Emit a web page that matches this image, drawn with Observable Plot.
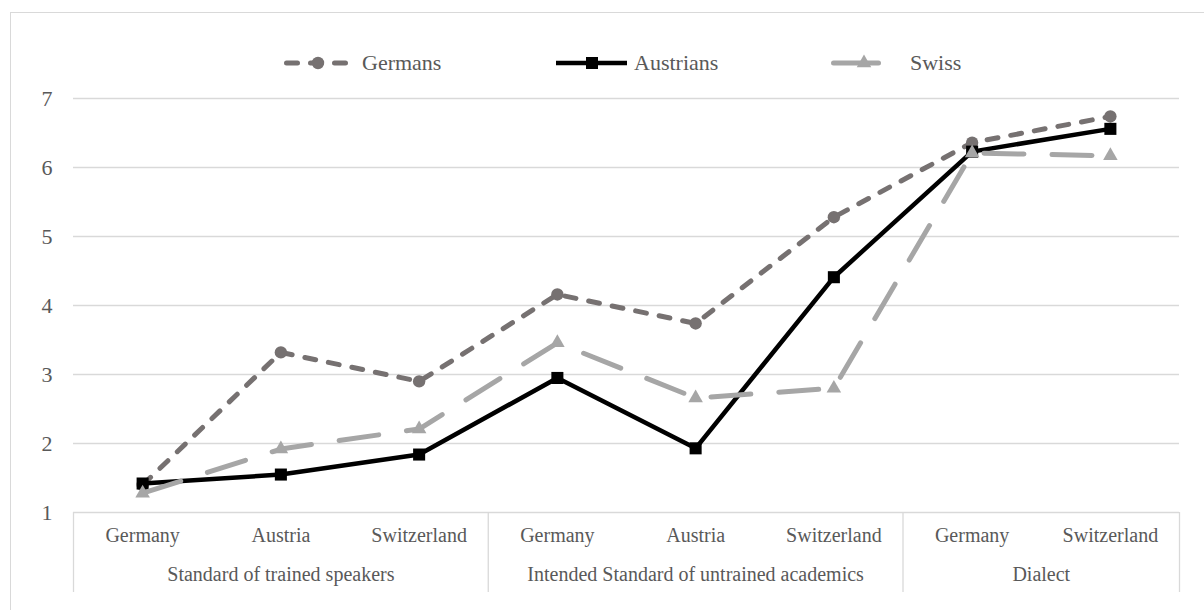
<!DOCTYPE html>
<html><head><meta charset="utf-8">
<script src="https://cdn.jsdelivr.net/npm/d3@7"></script>
<script src="https://cdn.jsdelivr.net/npm/@observablehq/plot@0.6"></script>
<style>
body{margin:0;background:#fff;width:1204px;height:610px;overflow:hidden;position:relative;font-family:"Liberation Serif",serif;}
#frame{position:absolute;left:10px;top:12px;width:1300px;height:700px;border:1.5px solid #d9d9d9;box-sizing:border-box;}
#legend{position:absolute;left:0;top:40px;width:1204px;height:46px;}
#legend .lbl{position:absolute;top:10px;font-family:"Liberation Serif",serif;font-size:22px;line-height:26px;color:#595959;}
#legend svg{position:absolute;left:0;top:0;}
#chart{position:absolute;left:0;top:80px;}
</style></head><body>
<div id="frame"></div><div id="legend"></div><div id="chart"></div>
<script>
// ---- data ----
const groups = ["Standard of trained speakers", "Intended Standard of untrained academics", "Dialect"];
const categories = ["Germany", "Austria", "Switzerland", "Germany", "Austria", "Switzerland", "Germany", "Switzerland"];
const categoryGroup = [0, 0, 0, 1, 1, 1, 2, 2];
const seriesNames = ["Germans", "Austrians", "Swiss"];
const germans   = [1.40, 3.32, 2.90, 4.16, 3.74, 5.28, 6.36, 6.74];
const austrians = [1.42, 1.55, 1.84, 2.95, 1.93, 4.41, 6.23, 6.56];
const swiss     = [1.28, 1.92, 2.21, 3.46, 2.66, 2.80, 6.21, 6.17];
const yTicks = [1, 2, 3, 4, 5, 6, 7];

// ---- styles ----
const styles = {
  Germans:   {stroke: "#767171", width: 5,   dash: "11,13", symbol: "circle",   r: 6.2, cap: "round"},
  Austrians: {stroke: "#000000", width: 4.5, dash: null,    symbol: "square",   r: 6.8, cap: "butt"},
  Swiss:     {stroke: "#a6a6a6", width: 5,   dash: "40,28", symbol: "triangle", r: 5.4, cap: "round"}
};
const textColor = "#595959";
const gridColor = "#d9d9d9";
const font = "'Liberation Serif', serif";

const values = {Germans: germans, Austrians: austrians, Swiss: swiss};
const rows = seriesNames.flatMap(s => values[s].map((v, i) => ({series: s, i, v})));
const catRows = categories.map((name, i) => ({name, i}));
const groupRows = groups.map((name, g) => {
  const idx = categoryGroup.map((cg, i) => cg === g ? i : null).filter(d => d !== null);
  return {name, center: d3.mean(idx)};
});
const boundaries = [-0.5];
categoryGroup.forEach((g, i) => { if (i > 0 && g !== categoryGroup[i - 1]) boundaries.push(i - 0.5); });
boundaries.push(categories.length - 0.5);

const seriesMarks = seriesNames.flatMap(s => {
  const st = styles[s];
  const data = rows.filter(d => d.series === s);
  return [
    Plot.line(data, {x: "i", y: "v", stroke: st.stroke, strokeWidth: st.width,
      strokeDasharray: st.dash, strokeLinecap: st.cap, strokeLinejoin: "round"}),
    Plot.dot(data, {x: "i", y: "v", symbol: st.symbol, r: st.r, fill: st.stroke, stroke: "none"})
  ];
});

const chart = Plot.plot({
  width: 1204, height: 530,
  marginTop: 18, marginBottom: 98, marginLeft: 73, marginRight: 25,
  x: {type: "linear", domain: [-0.5, categories.length - 0.5], axis: null},
  y: {domain: [1, 7], axis: null},
  style: {fontFamily: font, fontSize: "20px", color: textColor, background: "transparent", overflow: "visible"},
  marks: [
    Plot.gridY(yTicks, {stroke: gridColor, strokeOpacity: 1, strokeWidth: 1.3}),
    Plot.text(yTicks, {y: d => d, text: d => String(d), frameAnchor: "left", dx: -21, textAnchor: "end", fill: textColor, fontSize: 22}),
    Plot.axisX(boundaries, {tickSize: 80, stroke: gridColor, strokeOpacity: 1, strokeWidth: 1.3, tickFormat: () => "", label: null}),
    Plot.text(catRows, {x: "i", text: "name", frameAnchor: "bottom", dy: 29, fill: textColor, fontSize: 20}),
    Plot.text(groupRows, {x: "center", text: "name", frameAnchor: "bottom", dy: 68, fill: textColor, fontSize: 20}),
    ...seriesMarks
  ]
});
document.getElementById("chart").appendChild(chart);

// ---- legend ----
const legendItems = [
  {name: "Germans",   x1: 284, x2: 353, mx: 318, tx: 362},
  {name: "Austrians", x1: 556, x2: 627, mx: 592, tx: 634},
  {name: "Swiss",     x1: 831, x2: 881, mx: 864, tx: 910}
];
const legend = d3.select("#legend");
const lsvg = legend.append("svg").attr("width", 1204).attr("height", 46);
const symbolMap = {circle: d3.symbolCircle, square: d3.symbolSquare, triangle: d3.symbolTriangle};
legendItems.forEach(it => {
  const st = styles[it.name];
  lsvg.append("line").attr("x1", it.x1 + (st.cap === "round" ? st.width / 2 : 0)).attr("x2", it.x2 - (st.cap === "round" ? st.width / 2 : 0))
    .attr("y1", 23).attr("y2", 23)
    .attr("stroke", st.stroke).attr("stroke-width", st.width).attr("stroke-linecap", st.cap)
    .attr("stroke-dasharray", it.name === "Germans" ? "11,13" : null);
  lsvg.append("path").attr("transform", `translate(${it.mx},23)`)
    .attr("d", d3.symbol(symbolMap[st.symbol], Math.PI * st.r * st.r)())
    .attr("fill", st.stroke);
  legend.append("div").attr("class", "lbl").style("left", it.tx + "px").text(it.name);
});
</script>
</body></html>
